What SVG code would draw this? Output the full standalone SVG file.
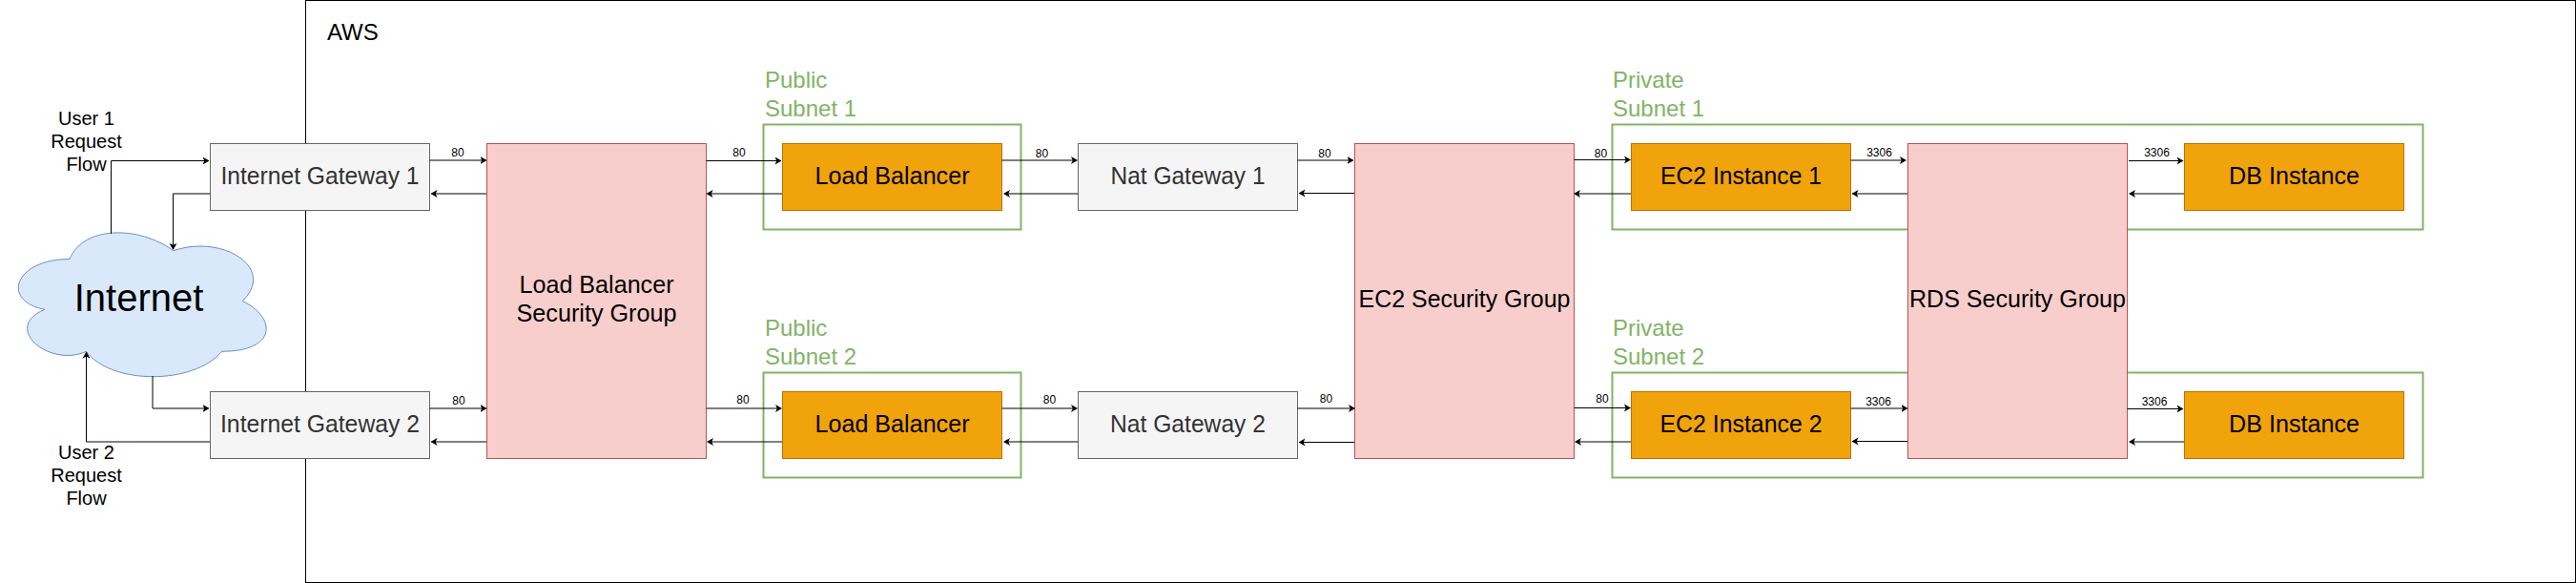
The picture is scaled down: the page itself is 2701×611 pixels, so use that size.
<svg xmlns="http://www.w3.org/2000/svg" width="2701" height="611" viewBox="0 0 2701 611">
<defs>
<marker id="a" markerUnits="userSpaceOnUse" markerWidth="8" markerHeight="9" viewBox="0 0 8 9" refX="6" refY="4.5" orient="auto"><path d="M0 .5L7 4.5L0 8.5L1.75 4.5Z" fill="#000"/></marker>
</defs>
<style>
text{font-family:"Liberation Sans",Arial,Helvetica,sans-serif;font-size:24px}
.m{text-anchor:middle;font-size:25px}
.gw rect{fill:#f5f5f5;stroke:#666}
.gw text{fill:#333}
.sg rect{fill:#f8cecc;stroke:#b85450}
.or rect{fill:#f0a30a;stroke:#bd7000}
.sub rect{fill:none;stroke:#82b366;stroke-width:2}
.sub text{fill:#82b366}
.u text{font-size:20px}
#connectors path{fill:none;stroke:#000;stroke-width:1;marker-end:url(#a)}
#connectors text{font-size:12px;text-anchor:middle}
</style>
<rect width="2701" height="611" fill="#fff"/>
<g id="aws"><rect x="320.5" y="0.5" width="2380" height="610" fill="#fff" stroke="#000"/><text x="343" y="42">AWS</text></g>
<g id="public-subnet-1" class="sub"><rect x="800.5" y="130.5" width="270" height="110"/><text x="802" y="92">Public</text><text x="802" y="122">Subnet 1</text></g>
<g id="public-subnet-2" class="sub"><rect x="800.5" y="390.5" width="270" height="110"/><text x="802" y="352">Public</text><text x="802" y="382">Subnet 2</text></g>
<g id="private-subnet-1" class="sub"><rect x="1690.5" y="130.5" width="850" height="110"/><text x="1691" y="92">Private</text><text x="1691" y="122">Subnet 1</text></g>
<g id="private-subnet-2" class="sub"><rect x="1690.5" y="390.5" width="850" height="110"/><text x="1691" y="352">Private</text><text x="1691" y="382">Subnet 2</text></g>
<g id="internet"><path d="M73 271.5C15 271.5 .5 315.5 46.9 324.3C.5 343.7 52.7 385.9 90.4 368.3C116.5 403.5 203.5 403.5 232.5 368.3C290.5 368.3 290.5 333.1 254.3 315.5C290.5 280.3 232.5 245.1 181.8 262.7C145.5 236.3 87.5 236.3 73 271.5Z" fill="#dae8fc" stroke="#6c8ebf"/><text x="145.5" y="326" text-anchor="middle" style="font-size:40px">Internet</text></g>
<g id="user-1" class="u"><text x="90.5" y="131" text-anchor="middle">User 1</text><text x="90.5" y="155" text-anchor="middle">Request</text><text x="90.5" y="179" text-anchor="middle">Flow</text></g>
<g id="user-2" class="u"><text x="90.5" y="481" text-anchor="middle">User 2</text><text x="90.5" y="505" text-anchor="middle">Request</text><text x="90.5" y="529" text-anchor="middle">Flow</text></g>
<g id="internet-gateway-1" class="gw"><rect x="220.5" y="150.5" width="230" height="70"/><text x="335.5" y="193" class="m" textLength="208" lengthAdjust="spacingAndGlyphs">Internet Gateway 1</text></g>
<g id="internet-gateway-2" class="gw"><rect x="220.5" y="410.5" width="230" height="70"/><text x="335.5" y="453" class="m" textLength="209" lengthAdjust="spacingAndGlyphs">Internet Gateway 2</text></g>
<g id="lb-sg" class="sg"><rect x="510.5" y="150.5" width="230" height="330"/><text x="625.5" y="307" class="m" textLength="162" lengthAdjust="spacingAndGlyphs">Load Balancer</text><text x="625.5" y="337" class="m" textLength="168" lengthAdjust="spacingAndGlyphs">Security Group</text></g>
<g id="load-balancer-1" class="or"><rect x="820.5" y="150.5" width="230" height="70"/><text x="935.5" y="193" class="m" textLength="162" lengthAdjust="spacingAndGlyphs">Load Balancer</text></g>
<g id="load-balancer-2" class="or"><rect x="820.5" y="410.5" width="230" height="70"/><text x="935.5" y="453" class="m" textLength="162" lengthAdjust="spacingAndGlyphs">Load Balancer</text></g>
<g id="nat-gateway-1" class="gw"><rect x="1130.5" y="150.5" width="230" height="70"/><text x="1245.5" y="193" class="m" textLength="162" lengthAdjust="spacingAndGlyphs">Nat Gateway 1</text></g>
<g id="nat-gateway-2" class="gw"><rect x="1130.5" y="410.5" width="230" height="70"/><text x="1245.5" y="453" class="m" textLength="163" lengthAdjust="spacingAndGlyphs">Nat Gateway 2</text></g>
<g id="ec2-sg" class="sg"><rect x="1420.5" y="150.5" width="230" height="330"/><text x="1535.5" y="322" class="m" textLength="222" lengthAdjust="spacingAndGlyphs">EC2 Security Group</text></g>
<g id="ec2-instance-1" class="or"><rect x="1710.5" y="150.5" width="230" height="70"/><text x="1825.5" y="193" class="m" textLength="169" lengthAdjust="spacingAndGlyphs">EC2 Instance 1</text></g>
<g id="ec2-instance-2" class="or"><rect x="1710.5" y="410.5" width="230" height="70"/><text x="1825.5" y="453" class="m" textLength="170" lengthAdjust="spacingAndGlyphs">EC2 Instance 2</text></g>
<g id="rds-sg" class="sg"><rect x="2000.5" y="150.5" width="230" height="330"/><text x="2115.5" y="322" class="m" textLength="227" lengthAdjust="spacingAndGlyphs">RDS Security Group</text></g>
<g id="db-instance-1" class="or"><rect x="2290.5" y="150.5" width="230" height="70"/><text x="2405.5" y="193" class="m" textLength="137" lengthAdjust="spacingAndGlyphs">DB Instance</text></g>
<g id="db-instance-2" class="or"><rect x="2290.5" y="410.5" width="230" height="70"/><text x="2405.5" y="453" class="m" textLength="137" lengthAdjust="spacingAndGlyphs">DB Instance</text></g>
<g id="connectors">
<path d="M116.5 245V168.5H218.5"/>
<path d="M220 203H181.5V261"/>
<path d="M160 394V428H218.5"/>
<path d="M220 463H90.5V369.5"/>
<path d="M450.5 168H509.5"/>
<path d="M510 203H452.5"/>
<path d="M450.5 428H509.5"/>
<path d="M510 463H452.5"/>
<path d="M740.5 168.5H818.5"/>
<path d="M820 203H741.5"/>
<path d="M740.5 428H819"/>
<path d="M820 463H742"/>
<path d="M1050.5 168H1129"/>
<path d="M1130 203H1053"/>
<path d="M1050.5 428H1129"/>
<path d="M1130 463H1053"/>
<path d="M1360.5 168H1418.5"/>
<path d="M1420 202.5H1362.5"/>
<path d="M1360.5 428H1420"/>
<path d="M1420 463.5H1362.5"/>
<path d="M1650.5 167.5H1709"/>
<path d="M1710 203H1651"/>
<path d="M1650.5 427.5H1709"/>
<path d="M1710 463H1652"/>
<path d="M1940.5 168H1998"/>
<path d="M2000 203H1942.5"/>
<path d="M1940.5 428H1999.5"/>
<path d="M2000 462.5H1942.5"/>
<path d="M2232 168.5H2288.5"/>
<path d="M2290 203H2233"/>
<path d="M2230.5 428.5H2288.5"/>
<path d="M2290 463H2233"/>
<text x="480" y="164">80</text>
<text x="481" y="424">80</text>
<text x="775" y="164">80</text>
<text x="779" y="423">80</text>
<text x="1092.5" y="165">80</text>
<text x="1100.5" y="423">80</text>
<text x="1389" y="165">80</text>
<text x="1390.5" y="422">80</text>
<text x="1678.5" y="165">80</text>
<text x="1680" y="422">80</text>
<text x="1970.5" y="164">3306</text>
<text x="1969.5" y="425">3306</text>
<text x="2261.5" y="164">3306</text>
<text x="2259" y="425">3306</text>
</g>
</svg>
